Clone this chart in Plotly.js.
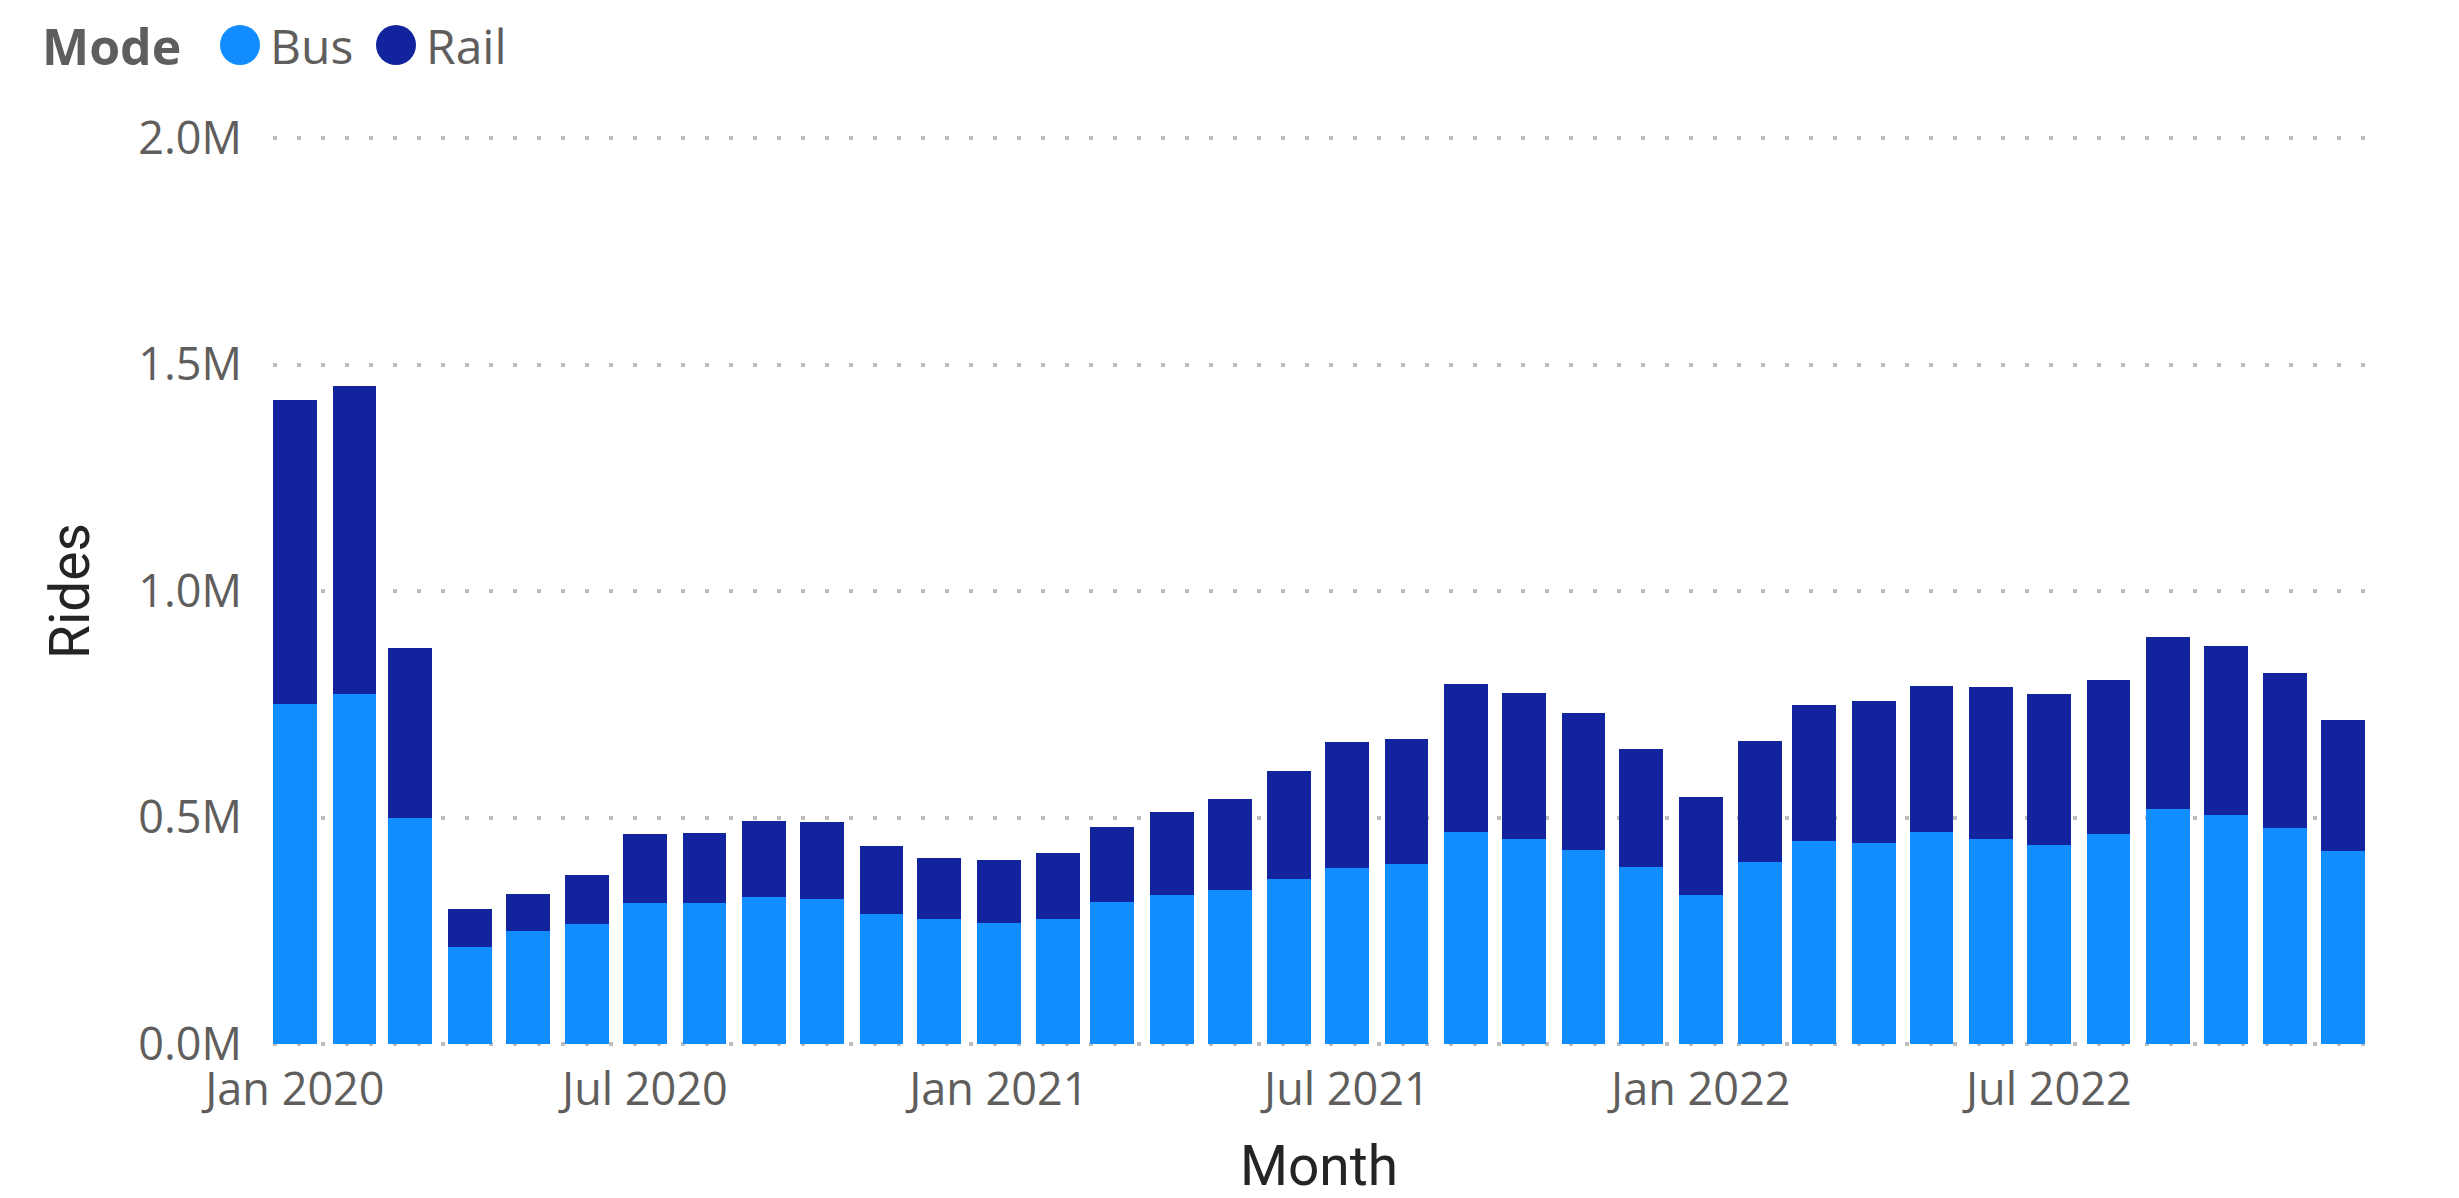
<!DOCTYPE html>
<html>
<head>
<meta charset="utf-8">
<script src="https://cdn.plot.ly/plotly-3.0.1.min.js"></script>
<style>html,body{margin:0;padding:0;background:#fff;}#chart{width:2459px;height:1198px;}</style>
</head>
<body>
<div id="chart"></div>
<script>
// ---- data ----
const months = [
  '2020-01-01','2020-02-01','2020-03-01','2020-04-01','2020-05-01','2020-06-01',
  '2020-07-01','2020-08-01','2020-09-01','2020-10-01','2020-11-01','2020-12-01',
  '2021-01-01','2021-02-01','2021-03-01','2021-04-01','2021-05-01','2021-06-01',
  '2021-07-01','2021-08-01','2021-09-01','2021-10-01','2021-11-01','2021-12-01',
  '2022-01-01','2022-02-01','2022-03-01','2022-04-01','2022-05-01','2022-06-01',
  '2022-07-01','2022-08-01','2022-09-01','2022-10-01','2022-11-01','2022-12-01'
];
const busRides = [
  750000, 772000, 500000, 215000, 249000, 265000,
  311000, 311000, 325000, 320000, 288000, 275000,
  268000, 275000, 314000, 329000, 340000, 364000,
  388000, 397000, 468000, 453000, 428000, 390000,
  330000, 401000, 448000, 444000, 468000, 453000,
  439000, 464000, 519000, 506000, 477000, 426000
];
const totalRides = [
  1422000, 1453000, 874000, 298000, 332000, 372000,
  464000, 466000, 492000, 490000, 437000, 411000,
  406000, 421000, 479000, 512000, 540000, 602000,
  667000, 674000, 795000, 774000, 731000, 652000,
  545000, 668000, 748000, 757000, 791000, 788000,
  773000, 804000, 898000, 878000, 819000, 715000
];
const railRides = totalRides.map((t, i) => t - busRides[i]);
const yTickVals = [0, 500000, 1000000, 1500000, 2000000];
const yTickText = ['0.0M', '0.5M', '1.0M', '1.5M', '2.0M'];
const seriesNames = ['Bus', 'Rail'];
const legendTitle = 'Mode';
const xTitle = 'Month';
const yTitle = 'Rides';

// ---- styling ----
const BUS = '#118DFF', RAIL = '#12239E';
const FONT = '"Segoe UI", "Open Sans", sans-serif';
const TFONT = '"Segoe UI Semibold", Roboto, "Open Sans", sans-serif';
const DAY = 86400000;
const barWidth = 22.8 * DAY;

const traces = [
  {type: 'bar', name: seriesNames[0], x: months, y: busRides, width: barWidth,
   marker: {color: BUS}, showlegend: false, hoverinfo: 'x+y+name'},
  {type: 'bar', name: seriesNames[1], x: months, y: railRides, width: barWidth,
   marker: {color: RAIL}, showlegend: false, hoverinfo: 'x+y+name'}
];

const W = 2459, H = 1198;
const M = {l: 273, r: 94, t: 136, b: 152};
const pw = W - M.l - M.r, ph = H - M.t - M.b;
const px2x = p => (p - M.l) / pw;
const py2y = p => (H - M.b - p) / ph;
const pad = 2 / 452.75 * 1e6;   // 2px of headroom so the edge gridlines are drawn

const legendY = py2y(46);
const layout = {
  width: W, height: H,
  margin: M,
  paper_bgcolor: '#ffffff', plot_bgcolor: '#ffffff',
  barmode: 'stack',
  showlegend: false,
  font: {family: FONT, color: '#605E5C'},
  xaxis: {
    type: 'date',
    range: ['2019-12-20 14:24', '2022-12-12 09:36'],
    tick0: '2020-01-01', dtick: 'M6', tickformat: '%b %Y',
    showgrid: false, zeroline: false, showline: false, ticks: '',
    tickfont: {family: FONT, size: 45, color: '#605E5C'},
    ticklabelstandoff: 13,
    title: {text: xTitle, font: {family: TFONT, size: 55, color: '#252423'}, standoff: 36},
    automargin: false, fixedrange: true
  },
  yaxis: {
    range: [-pad, 2000000 + pad],
    tickvals: yTickVals, ticktext: yTickText,
    showgrid: true, gridcolor: '#BDBDBD', gridwidth: 4, griddash: '4px,20px',
    zeroline: false, showline: false, ticks: '',
    tickfont: {family: FONT, size: 45, color: '#605E5C'},
    ticklabelstandoff: 30,
    title: {text: yTitle, font: {family: TFONT, size: 55, color: '#252423'}, standoff: 30},
    automargin: false, fixedrange: true
  },
  annotations: [
    {xref: 'paper', yref: 'paper', x: px2x(40), y: legendY, xanchor: 'left', yanchor: 'middle',
     text: '<b>' + legendTitle + '</b>', showarrow: false,
     font: {family: FONT, size: 50, color: '#605E5C'}},
    {xref: 'paper', yref: 'paper', x: px2x(268), y: legendY, xanchor: 'left', yanchor: 'middle',
     text: seriesNames[0], showarrow: false,
     font: {family: FONT, size: 48, color: '#605E5C'}},
    {xref: 'paper', yref: 'paper', x: px2x(424), y: legendY, xanchor: 'left', yanchor: 'middle',
     text: seriesNames[1], showarrow: false,
     font: {family: FONT, size: 48, color: '#605E5C'}}
  ],
  shapes: [
    {type: 'circle', xref: 'paper', yref: 'paper', xsizemode: 'pixel', ysizemode: 'pixel',
     xanchor: px2x(240), yanchor: py2y(45), x0: -20, x1: 20, y0: -20, y1: 20,
     fillcolor: BUS, line: {width: 0}},
    {type: 'circle', xref: 'paper', yref: 'paper', xsizemode: 'pixel', ysizemode: 'pixel',
     xanchor: px2x(396), yanchor: py2y(45), x0: -20, x1: 20, y0: -20, y1: 20,
     fillcolor: RAIL, line: {width: 0}}
  ]
};

Plotly.newPlot('chart', traces, layout, {staticPlot: true, displayModeBar: false});
</script>
</body>
</html>
